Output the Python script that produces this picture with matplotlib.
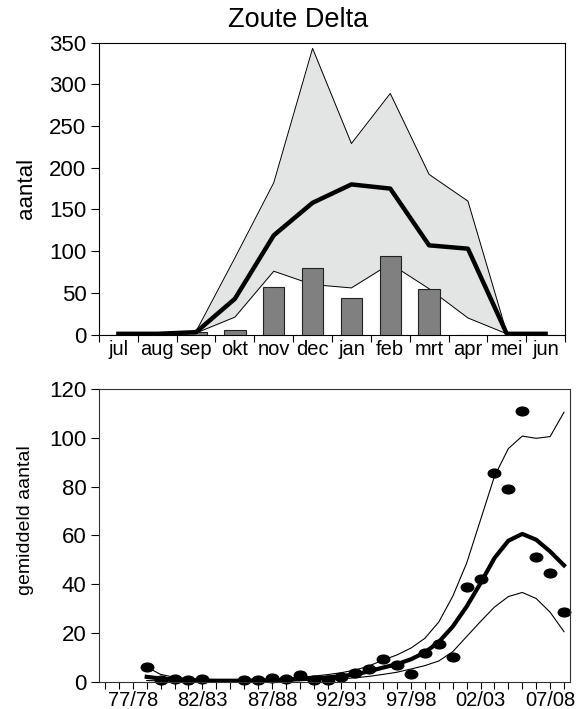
import numpy as np
import matplotlib
matplotlib.use('Agg')
import matplotlib.pyplot as plt
from matplotlib.path import Path

plt.rcParams['font.family'] = ['Liberation Sans', 'DejaVu Sans']
plt.rcParams['font.size'] = 14

# top panel: monthly counts
months = ['jul', 'aug', 'sep', 'okt', 'nov', 'dec', 'jan', 'feb', 'mrt', 'apr', 'mei', 'jun']
season_counts = [0, 0, 3, 6, 57, 80, 44, 94, 55, 0, 0, 0]
month_mean = [1, 1, 3, 43, 119, 158, 180, 175, 107, 103, 1, 1]
month_max = [1, 1, 4, 92, 182, 343, 229, 289, 192, 160, 2, 1]
month_min = [0, 0, 2, 21, 76, 60, 56, 85, 55, 20, 1, 0]

# bottom panel: seasonal averages
seasons = ['%02d/%02d' % (y % 100, (y + 1) % 100) for y in range(1975, 2009)]
first_season = 3
season_avg = [6.0, 0.8, 1.0, 0.5, 1.0, np.nan, np.nan, 0.5, 0.5, 1.5, 1.0, 2.8, 0.5, 0.5,
              2.0, 3.7, 5.2, 9.3, 6.7, 3.3, 11.7, 15.5, 10.0, 38.9, 42.0, 85.5, 79.0,
              110.8, 51.0, 44.5, 28.6]
trend = [2.0, 1.3, 0.9, 0.6, 0.5, 0.4, 0.4, 0.4, 0.5, 0.6, 0.8, 1.0, 1.3, 1.7, 2.3, 3.0,
         4.3, 5.8, 7.2, 9.2, 12.0, 16.3, 22.6, 30.8, 40.4, 50.7, 57.8, 60.6, 58.2, 53.4, 47.7]
trend_upper = [6.0, 3.0, 1.8, 1.2, 1.0, 0.8, 0.8, 0.8, 0.9, 1.1, 1.4, 1.8, 2.3, 2.9, 3.7,
               4.8, 6.5, 8.9, 11.0, 13.8, 17.8, 24.5, 35.0, 48.6, 66.4, 84.2, 95.6, 100.7,
               99.8, 100.5, 110.5]
trend_lower = [0.5, 0.3, 0.2, 0.2, 0.2, 0.2, 0.2, 0.2, 0.2, 0.3, 0.4, 0.5, 0.7, 0.9, 1.2,
               1.6, 2.2, 3.0, 3.9, 5.2, 6.6, 8.5, 12.3, 18.5, 24.7, 30.6, 34.9, 36.6, 34.1,
               28.5, 20.5]

fig = plt.figure(figsize=(5.84, 7.09), dpi=100)

# ---- top ----
ax1 = fig.add_axes([0.1695, 0.528, 0.798, 0.412])
x = np.arange(len(months))
ax1.fill_between(x, month_min, month_max, color='#e3e4e4', lw=0, zorder=1)
ax1.plot(x, month_max, color='black', lw=0.7, zorder=2)
ax1.plot(x, month_min, color='black', lw=0.7, zorder=2)
ax1.bar(x, season_counts, width=0.55, color='#808080', edgecolor='#222222', lw=0.8, zorder=3)
ax1.plot(x, month_mean, color='black', lw=3.2, zorder=4)
ax1.set_xlim(-0.5, 11.5)
ax1.set_ylim(0, 350)
ax1.set_yticks(range(0, 351, 50))
ax1.set_xticks(np.arange(-0.5, 12, 1))
ax1.set_xticklabels([])
ax1.set_xticks(x, minor=True)
ax1.set_xticklabels(months, minor=True, fontsize=14.5)
ax1.tick_params(axis='x', which='minor', length=0, pad=4)
ax1.tick_params(axis='x', which='major', length=5, direction='out')
ax1.tick_params(axis='y', length=6, direction='out', pad=3, labelsize=16)
ax1.set_ylabel('aantal', fontsize=16)
ax1.yaxis.set_label_coords(-0.133, 0.5)
fig.text(0.511, 0.972, 'Zoute Delta', ha='center', va='center', fontsize=19.5)

# ---- bottom ----
ax2 = fig.add_axes([0.1695, 0.0385, 0.807, 0.4128])
xs = np.arange(first_season, first_season + len(season_avg))
ax2.plot(xs, trend_upper, color='black', lw=0.8)
ax2.plot(xs, trend_lower, color='black', lw=0.8)
ax2.plot(xs, trend, color='black', lw=3)
circ = Path.unit_circle()
ellipse = Path(circ.vertices * np.array([1.0, 0.7]), circ.codes)
ax2.plot(xs, season_avg, ls='none', marker=ellipse, ms=9, color='black', clip_on=False)
ax2.set_xlim(-0.43, 33.45)
ax2.set_ylim(0, 120)
ax2.set_yticks(range(0, 121, 20))
ax2.set_xticks(np.arange(len(seasons)))
ax2.set_xticklabels([s if (i - 2) % 5 == 0 else '' for i, s in enumerate(seasons)])
ax2.tick_params(axis='x', length=5, direction='out', pad=1.5, labelsize=14.5)
ax2.tick_params(axis='y', length=6, direction='out', pad=3, labelsize=16)
ax2.set_ylabel('gemiddeld aantal', fontsize=14)
ax2.yaxis.set_label_coords(-0.138, 0.553)
for sp in ax2.spines.values():
    sp.set_color('#333333')

plt.savefig('out.png', dpi=100)
